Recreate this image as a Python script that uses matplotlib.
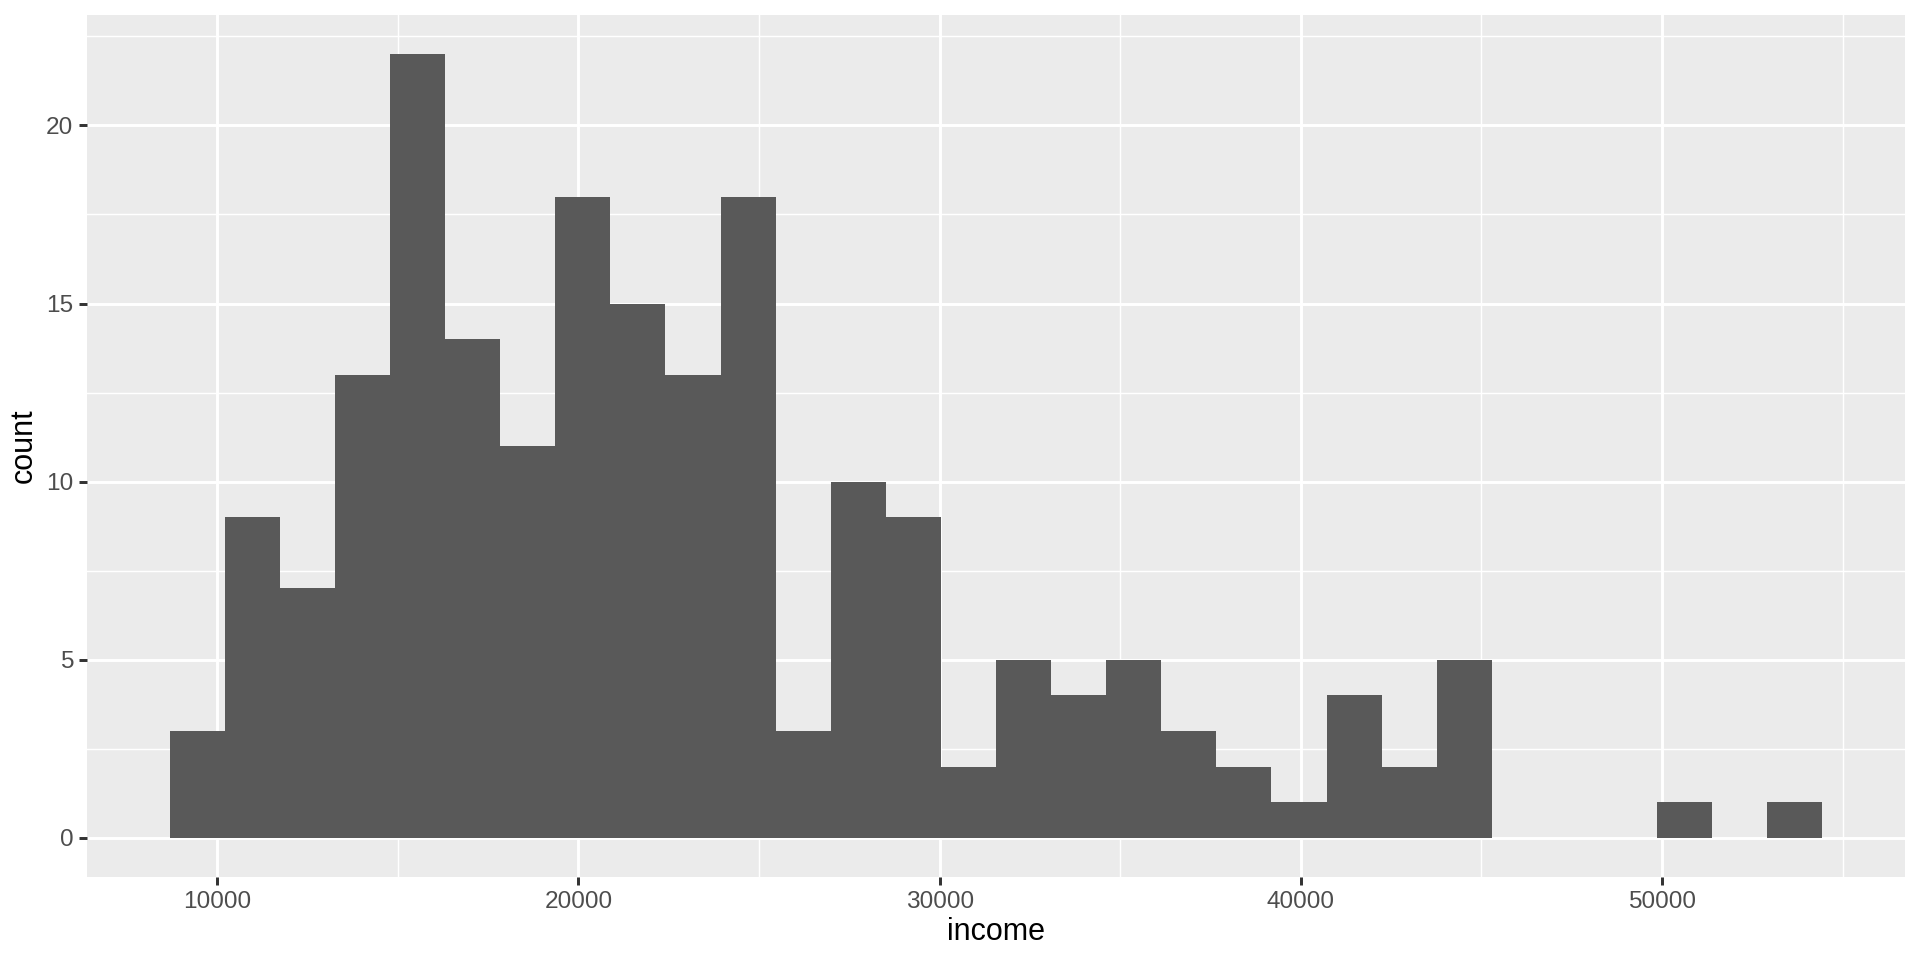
import numpy as np
import matplotlib
matplotlib.use('Agg')
from matplotlib import pyplot as plt

# histogram of income, 30 bins
bin_start = 8686
bin_width = 1525
counts = [3, 9, 7, 13, 22, 14, 11, 18, 15, 13, 18, 3, 10, 9, 2,
          5, 4, 5, 3, 2, 1, 4, 2, 5, 0, 0, 0, 1, 0, 1]
x_ticks = [10000, 20000, 30000, 40000, 50000]
y_ticks = [0, 5, 10, 15, 20]

plt.rcParams['font.family'] = ['Liberation Sans', 'DejaVu Sans']

fig = plt.figure(figsize=(9.6, 4.8), dpi=200)
ax = fig.add_axes([87 / 1920, 1 - 877 / 960, (1905 - 87) / 1920, (877 - 15) / 960])

lefts = bin_start + bin_width * np.arange(len(counts))
ax.bar(lefts, counts, width=bin_width, align='edge', color='#595959',
       linewidth=0, zorder=3)

x_lo = bin_start
x_hi = bin_start + bin_width * len(counts)
pad = (x_hi - x_lo) * 0.05
ax.set_xlim(x_lo - pad, x_hi + pad)
ax.set_ylim(-max(counts) * 0.05, max(counts) * 1.05)

ax.set_facecolor('#EBEBEB')
for s in ax.spines.values():
    s.set_visible(False)

ax.set_xticks(x_ticks)
ax.set_xticks([15000, 25000, 35000, 45000, 55000], minor=True)
ax.set_yticks(y_ticks)
ax.set_yticks([2.5, 7.5, 12.5, 17.5, 22.5], minor=True)
ax.grid(which='major', color='white', linewidth=1.07, zorder=0)
ax.grid(which='minor', color='white', linewidth=0.53, zorder=0)
ax.set_axisbelow(True)

ax.tick_params(which='major', length=2.75, width=1.07, color='#333333',
               labelsize=8.8, labelcolor='#4D4D4D', pad=2.2)
ax.tick_params(which='minor', length=0)

ax.set_xlabel('income', fontsize=11, color='black', labelpad=1.5)
ax.set_ylabel('count', fontsize=11, color='black', labelpad=2.5)

fig.savefig('out.png', dpi=200)
